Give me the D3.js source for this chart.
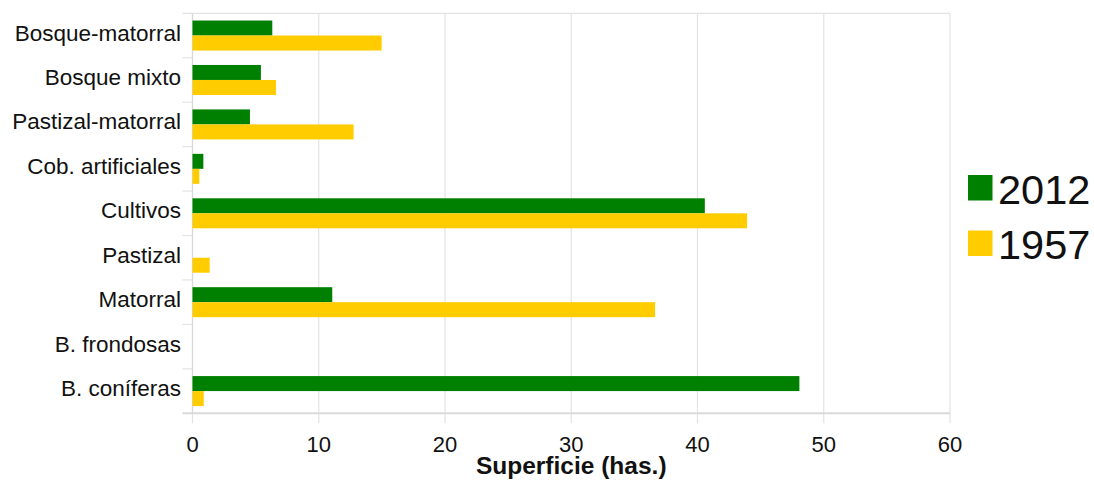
<!DOCTYPE html>
<html>
<head>
<meta charset="utf-8">
<script src="https://cdn.jsdelivr.net/npm/d3@7"></script>
<style>
  html, body { margin: 0; padding: 0; background: #fff; }
  svg { display: block; font-family: "Liberation Sans", Arial, sans-serif; }
</style>
</head>
<body>
<svg id="chart" width="1094" height="480"></svg>
<script>
// Land-cover classes (top to bottom)
const categories = [
  "Bosque-matorral", "Bosque mixto", "Pastizal-matorral", "Cob. artificiales",
  "Cultivos", "Pastizal", "Matorral", "B. frondosas", "B. coníferas"
];
// Area in hectares per year
const values2012 = [6.32, 5.42, 4.55, 0.86, 40.58, 0, 11.07, 0, 48.07];
const values1957 = [14.98, 6.61, 12.76, 0.54, 43.93, 1.36, 36.64, 0, 0.89];
const seriesNames = ["2012", "1957"];
const seriesColors = ["#008000", "#ffcc00"];
const xTicks = [0, 10, 20, 30, 40, 50, 60];
const xTitle = "Superficie (has.)";

const series = [values2012, values1957];

const svg = d3.select("#chart");
const plotLeft = 192.5, plotRight = 950, plotTop = 13.3, plotBottom = 413.3;

const x = d3.scaleLinear().domain([0, 60]).range([plotLeft, plotRight]);
const y = d3.scaleBand().domain(categories).range([plotTop, plotBottom])
  .paddingInner(0.325).paddingOuter(0.1625);
const ySub = d3.scaleBand().domain(seriesNames).range([0, y.bandwidth()]);

const grid = "#e3e3e3";

// vertical gridlines with short ticks below the plot
svg.append("g").selectAll("line").data(xTicks).join("line")
  .attr("x1", d => x(d)).attr("x2", d => x(d))
  .attr("y1", plotTop).attr("y2", plotBottom + 10)
  .attr("stroke", grid).attr("stroke-width", 1.2);

// category boundaries: ticks left of the plot
const bounds = d3.range(categories.length + 1).map(i => plotTop + i * y.step());
svg.append("g").selectAll("line").data(bounds).join("line")
  .attr("x1", plotLeft - 10)
  .attr("x2", (d, i) => (i === 0 || i === categories.length) ? plotRight : plotLeft)
  .attr("y1", d => d).attr("y2", d => d)
  .attr("stroke", (d, i) => i === categories.length ? "#dadada" : grid)
  .attr("stroke-width", (d, i) => i === categories.length ? 2 : 1.2);

// left axis line
svg.append("line")
  .attr("x1", plotLeft).attr("x2", plotLeft).attr("y1", plotTop).attr("y2", plotBottom)
  .attr("stroke", "#d8d8d8").attr("stroke-width", 1.2);

// bars
series.forEach((vals, si) => {
  svg.append("g").selectAll("rect").data(vals).join("rect")
    .attr("x", x(0))
    .attr("y", (d, i) => y(categories[i]) + ySub(seriesNames[si]))
    .attr("width", d => x(d) - x(0))
    .attr("height", ySub.bandwidth())
    .attr("fill", seriesColors[si]);
});

// category labels
svg.append("g").selectAll("text").data(categories).join("text")
  .attr("x", 181)
  .attr("y", d => y(d) + y.bandwidth() / 2 + 5)
  .attr("text-anchor", "end")
  .attr("font-size", 22.5)
  .attr("fill", "#111")
  .text(d => d);

// x tick labels
svg.append("g").selectAll("text").data(xTicks).join("text")
  .attr("x", d => x(d))
  .attr("y", 452)
  .attr("text-anchor", "middle")
  .attr("font-size", 22)
  .attr("fill", "#111")
  .text(d => d);

// x axis title
svg.append("text")
  .attr("x", (plotLeft + plotRight) / 2)
  .attr("y", 474)
  .attr("text-anchor", "middle")
  .attr("font-size", 24.5)
  .attr("font-weight", "bold")
  .attr("fill", "#111")
  .text(xTitle);

// legend
const legend = svg.append("g");
seriesNames.forEach((name, i) => {
  const yy = 175 + i * 55.5;
  legend.append("rect")
    .attr("x", 968).attr("y", yy).attr("width", 24.5).attr("height", 25.5)
    .attr("fill", seriesColors[i]);
  legend.append("text")
    .attr("x", 998).attr("y", yy + 28.5)
    .attr("font-size", 41.5)
    .attr("fill", "#111")
    .text(name);
});
</script>
</body>
</html>
